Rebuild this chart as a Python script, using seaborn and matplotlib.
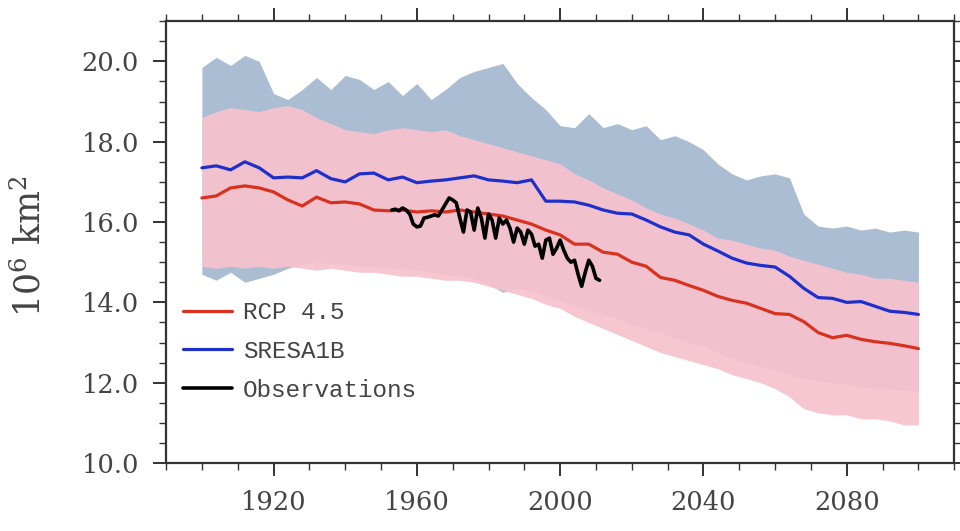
import matplotlib
matplotlib.use("Agg")
import matplotlib.pyplot as plt
from matplotlib.ticker import MultipleLocator
import pandas as pd
import seaborn as sns

# model years (4-yearly reading of the curves)
years = list(range(1900, 2101, 4))

rcp45_mean = [16.60, 16.65, 16.85, 16.90, 16.85, 16.75, 16.55, 16.40, 16.62, 16.48,
              16.50, 16.45, 16.30, 16.28, 16.30, 16.25, 16.28, 16.25, 16.30, 16.25,
              16.20, 16.15, 16.05, 15.95, 15.80, 15.68, 15.45, 15.45, 15.25, 15.20,
              15.00, 14.90, 14.62, 14.55, 14.42, 14.30, 14.15, 14.05, 13.98, 13.85,
              13.72, 13.70, 13.52, 13.25, 13.12, 13.18, 13.08, 13.02, 12.98, 12.92,
              12.85]
rcp45_max = [18.60, 18.75, 18.85, 18.80, 18.75, 18.85, 18.90, 18.80, 18.60, 18.45,
             18.30, 18.25, 18.20, 18.30, 18.35, 18.30, 18.25, 18.30, 18.15, 18.05,
             17.95, 17.85, 17.75, 17.65, 17.55, 17.45, 17.20, 17.05, 16.85, 16.70,
             16.55, 16.35, 16.20, 16.10, 15.95, 15.80, 15.60, 15.55, 15.45, 15.35,
             15.30, 15.15, 15.05, 14.95, 14.85, 14.75, 14.70, 14.60, 14.60, 14.55,
             14.50]
rcp45_min = [14.90, 14.85, 14.90, 14.85, 14.90, 14.85, 14.90, 14.85, 14.80, 14.85,
             14.80, 14.75, 14.75, 14.70, 14.65, 14.65, 14.60, 14.55, 14.55, 14.50,
             14.40, 14.30, 14.20, 14.10, 13.95, 13.85, 13.65, 13.50, 13.35, 13.20,
             13.05, 12.90, 12.75, 12.65, 12.55, 12.45, 12.35, 12.20, 12.10, 12.00,
             11.85, 11.65, 11.35, 11.25, 11.20, 11.20, 11.10, 11.10, 11.05, 10.95,
             10.95]

sres_mean = [17.35, 17.40, 17.30, 17.50, 17.35, 17.10, 17.12, 17.10, 17.28, 17.08,
             17.00, 17.20, 17.22, 17.05, 17.12, 16.98, 17.02, 17.05, 17.10, 17.15,
             17.05, 17.02, 16.98, 17.05, 16.52, 16.52, 16.50, 16.42, 16.30, 16.22,
             16.20, 16.05, 15.88, 15.75, 15.68, 15.45, 15.28, 15.10, 14.98, 14.92,
             14.88, 14.65, 14.35, 14.12, 14.10, 14.00, 14.02, 13.90, 13.78, 13.75,
             13.70]
sres_max = [19.85, 20.10, 19.90, 20.15, 20.00, 19.20, 19.05, 19.30, 19.60, 19.30,
            19.65, 19.55, 19.30, 19.50, 19.15, 19.45, 19.05, 19.30, 19.60, 19.75,
            19.85, 19.95, 19.45, 19.10, 18.80, 18.40, 18.35, 18.70, 18.35, 18.45,
            18.30, 18.40, 18.05, 18.15, 18.00, 17.80, 17.45, 17.20, 17.05, 17.15,
            17.20, 17.10, 16.20, 15.90, 15.85, 15.90, 15.80, 15.85, 15.75, 15.80,
            15.75]
sres_min = [14.70, 14.55, 14.75, 14.50, 14.60, 14.70, 14.85, 14.95, 15.00, 14.95,
            14.95, 14.90, 14.90, 14.85, 14.85, 14.80, 14.75, 14.70, 14.65, 14.60,
            14.45, 14.25, 14.35, 14.30, 14.15, 14.05, 13.90, 13.80, 13.70, 13.60,
            13.45, 13.35, 13.25, 13.10, 13.00, 12.90, 12.75, 12.60, 12.50, 12.40,
            12.30, 12.20, 12.10, 12.05, 12.00, 11.95, 11.90, 11.85, 11.85, 11.80,
            11.80]

# observations, yearly
obs_years = list(range(1953, 2012))
obs_values = [16.30, 16.32, 16.28, 16.35, 16.30, 16.20, 15.95, 15.88, 15.90, 16.10,
              16.12, 16.15, 16.18, 16.15, 16.30, 16.45, 16.60, 16.55, 16.48, 16.10,
              15.75, 16.30, 16.25, 15.80, 16.35, 16.10, 15.60, 16.20, 16.05, 15.60,
              16.10, 15.95, 16.05, 15.85, 15.50, 15.85, 15.75, 15.45, 15.80, 15.70,
              15.40, 15.45, 15.10, 15.55, 15.60, 15.20, 15.35, 15.55, 15.30, 15.10,
              15.00, 15.05, 14.70, 14.40, 14.75, 15.05, 14.90, 14.60, 14.55]

series_labels = ["RCP 4.5", "SRESA1B", "Observations"]
x_ticks = [1920, 1960, 2000, 2040, 2080]
y_ticks = [10.0, 12.0, 14.0, 16.0, 18.0, 20.0]

models = pd.DataFrame({
    "year": years,
    "rcp_mean": rcp45_mean, "rcp_max": rcp45_max, "rcp_min": rcp45_min,
    "sres_mean": sres_mean, "sres_max": sres_max, "sres_min": sres_min,
})
obs = pd.DataFrame({"year": obs_years, "extent": obs_values})

sns.set_style("ticks")
plt.rcParams["font.family"] = ["DejaVu Serif", "DejaVu Sans"]
plt.rcParams["mathtext.fontset"] = "dejavuserif"

fig = plt.figure(figsize=(9.6, 5.31), dpi=100)
ax = fig.add_axes([0.173, 0.128, 0.821, 0.832])

ax.fill_between(models["year"], models["sres_min"], models["sres_max"],
                color="#abbdd2", linewidth=0, zorder=1)
ax.fill_between(models["year"], models["rcp_min"], models["rcp_max"],
                color="#f7c3ce", alpha=0.93, linewidth=0, zorder=2)

sns.lineplot(data=models, x="year", y="rcp_mean", ax=ax, color="#d8321e",
             linewidth=2.3, label=series_labels[0], zorder=4)
sns.lineplot(data=models, x="year", y="sres_mean", ax=ax, color="#1f2fcc",
             linewidth=2.3, label=series_labels[1], zorder=4)
sns.lineplot(data=obs, x="year", y="extent", ax=ax, color="black",
             linewidth=2.6, label=series_labels[2], zorder=5)

ax.set_xlim(1890, 2110)
ax.set_ylim(10, 21)
ax.set_xticks(x_ticks)
ax.set_yticks(y_ticks)
ax.set_yticklabels([f"{v:.1f}" for v in y_ticks])
ax.xaxis.set_minor_locator(MultipleLocator(10))
ax.yaxis.set_minor_locator(MultipleLocator(0.5))

ax.tick_params(which="both", direction="out", top=True, right=True,
               labeltop=False, labelright=False, colors="#333333")
ax.tick_params(which="major", length=9.5, width=1.4, pad=10,
               labelsize=18.5, labelcolor="#444444")
ax.tick_params(which="minor", length=5, width=1.0)
for spine in ax.spines.values():
    spine.set_linewidth(1.6)
    spine.set_color("#333333")

ax.set_xlabel("")
ax.set_ylabel("10$^6$ km$^2$", fontsize=25, color="#444444")
ax.yaxis.set_label_coords(-0.15, 0.49)

ax.legend(loc="upper left", bbox_to_anchor=(0.0, 0.405), frameon=False,
          borderaxespad=0.3, handlelength=2.0, handletextpad=0.45,
          labelspacing=0.65,
          prop={"family": "Liberation Mono", "size": 17.5},
          labelcolor="#444444")

fig.savefig("out.png", dpi=100, facecolor="white")
